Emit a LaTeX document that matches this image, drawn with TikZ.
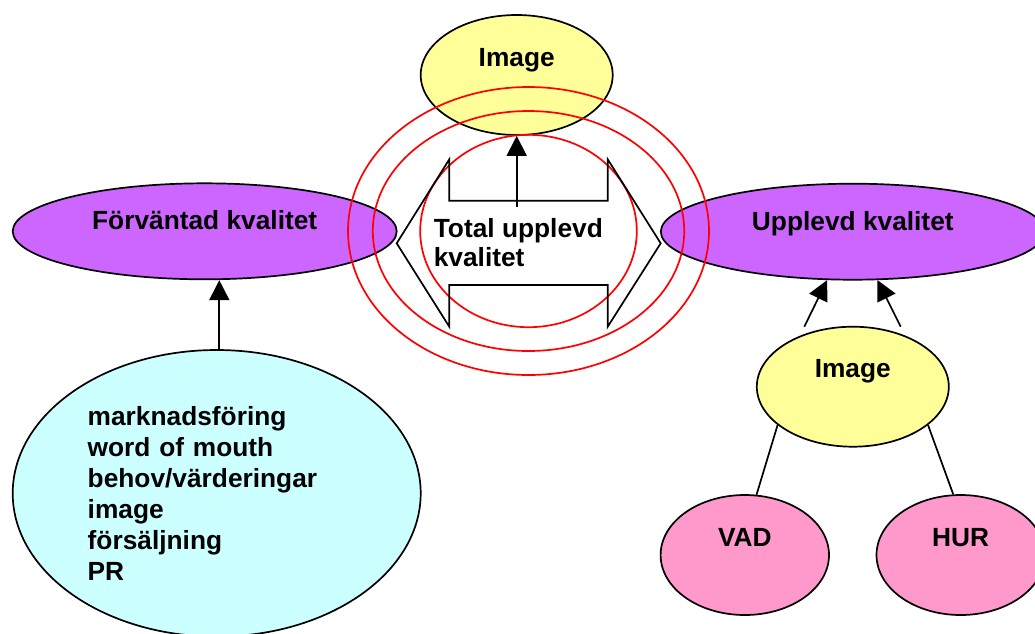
\documentclass[tikz,border=0pt]{standalone}
\usepackage{fontspec}
\setsansfont{Liberation Sans}
\usetikzlibrary{arrows.meta,shapes.geometric}

\definecolor{lilac}{RGB}{204,102,255}
\definecolor{paleyellow}{RGB}{255,255,153}
\definecolor{palecyan}{RGB}{204,255,255}
\definecolor{rose}{RGB}{255,153,204}

\begin{document}
\begin{tikzpicture}[x=1pt,y=1pt,->,>={Triangle[length=20pt,width=20pt]},
  line width=1.7pt,
  base node/.style={ellipse,draw,inner sep=0pt,font=\sffamily\bfseries\fontsize{26.3}{31}\selectfont},
  main node/.style={base node,fill=lilac,minimum width=384pt,minimum height=96pt,text height=0pt,text depth=3pt},
  image node/.style={base node,fill=paleyellow,minimum width=192pt,minimum height=120pt,text height=0pt,text depth=18pt},
  sub node/.style={base node,fill=rose,minimum width=168.4pt,minimum height=120pt,text height=0pt,text depth=18pt},
  list node/.style={base node,fill=palecyan,minimum width=408pt,minimum height=286.6pt,align=left,text width=258pt},
  text node/.style={inner sep=0pt,align=left,font=\sffamily\bfseries\fontsize{26.3}{29}\selectfont},
  ring/.style={-,draw=red},
  frame/.style={-,draw=black}]

  \useasboundingbox (0,0) rectangle (1035,-633);

  \node[image node] (img) at (516.7,-75) {Image};
  \node[main node] (forv) at (204.7,-231.3) {Förväntad kvalitet};
  \node[main node] (upl) at (852.8,-231.7) {Upplevd kvalitet};
  \node[image node] (img2) at (852.8,-386.7) {Image};
  \node[sub node] (vad) at (744.8,-555) {VAD};
  \node[sub node] (hur) at (960.7,-555) {HUR};
  \node[list node] (list) at (216.7,-493.3)
    {marknadsföring\\word of mouth\\behov/värderingar\\image\\försäljning\\PR};

  \draw[ring] (528.5,-231) ellipse [x radius=180.5,y radius=144];
  \draw[ring] (528.5,-231) ellipse [x radius=155.7,y radius=120];
  \draw[ring] (528.5,-231) ellipse [x radius=108.3,y radius=96.2];

  \draw[frame] (449.3,-159.3) -- (449.3,-200.7) -- (607.7,-200.7) -- (607.7,-159.3)
    -- (660.7,-243.3) -- (607.7,-326.7) -- (607.7,-285) -- (449.3,-285)
    -- (449.3,-326.7) -- (396.7,-243.3) -- cycle;

  \node[text node,anchor=north west] (total) at (433,-217.8) {Total upplevd\\kvalitet};

  \coordinate (tail) at (516.7,-207);
  \coordinate (list top) at ([xshift=2.6pt]list.north);
  \coordinate (left tail) at (804.3,-326.7);
  \coordinate (right tail) at (900.7,-326.7);

  \path
    (tail) edge (img)
    (list top) edge (list top |- forv.south)
    (left tail) edge (upl.242.8)
    (right tail) edge (upl.297.6)
    ;

  \path[-]
    (img2.207) edge (vad.79)
    (img2.333) edge (hur.97)
    ;

\end{tikzpicture}
\end{document}
